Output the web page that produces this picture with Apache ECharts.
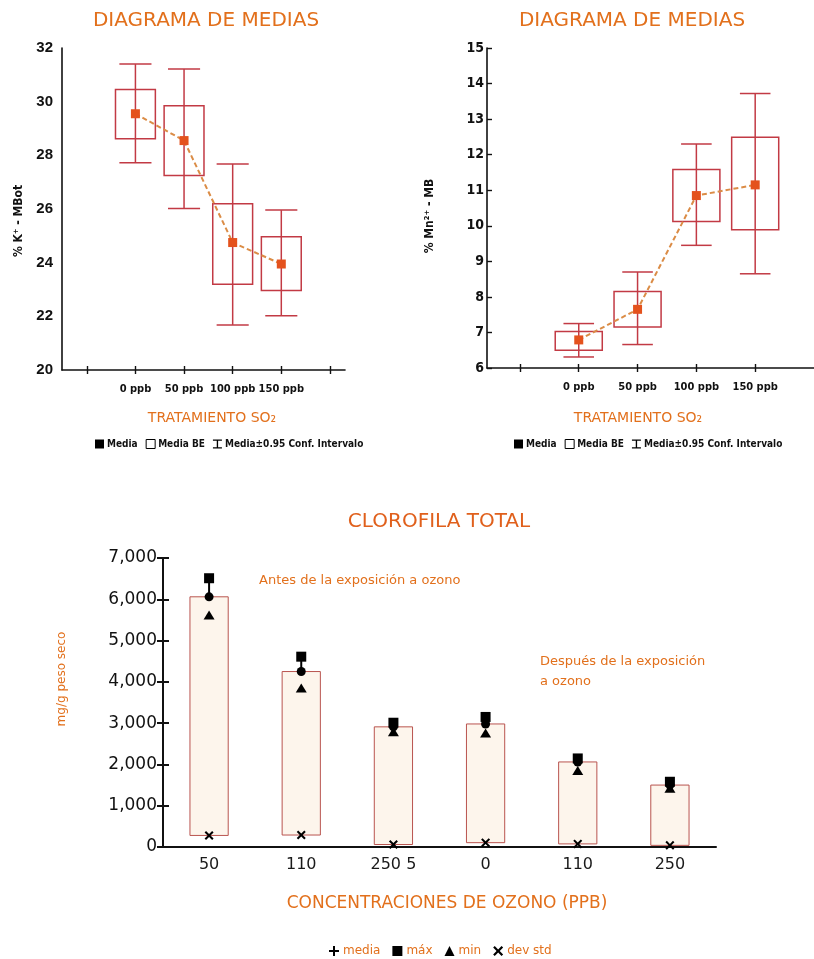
<!DOCTYPE html>
<html>
<head>
<meta charset="utf-8">
<script src="https://cdn.jsdelivr.net/npm/echarts@6/dist/echarts.min.js"></script>
<style>
  html, body { margin: 0; padding: 0; background: #fff; }
  #chart { width: 814px; height: 959px; }
</style>
</head>
<body>
<div id="chart"></div>
<script>
// ---- SO2 treatment diagrams (means, standard-error boxes, 0.95 CI whiskers) ----
const so2Levels = ['0 ppb', '50 ppb', '100 ppb', '150 ppb'];
const so2Positions = [0, 1, 2, 3];
const so2TickPositions = [-1, 0, 1, 2, 3, 4];

// % K+ - MBot
const kMean    = [29.55, 28.55, 24.75, 23.95];
const kBoxLow  = [28.62, 27.25, 23.20, 22.96];
const kBoxHigh = [30.45, 29.85, 26.20, 24.97];
const kCiLow   = [27.72, 26.02, 21.68, 22.02];
const kCiHigh  = [31.40, 31.22, 27.68, 25.96];
const kTicks   = [20, 22, 24, 26, 28, 30, 32];

// % Mn2+ - MB
const mnMean    = [6.79, 7.65, 10.85, 11.15];
const mnBoxLow  = [6.50, 7.15, 10.12, 9.89];
const mnBoxHigh = [7.03, 8.15, 11.58, 12.49];
const mnCiLow   = [6.31, 6.66, 9.45, 8.65];
const mnCiHigh  = [7.25, 8.70, 12.30, 13.72];
const mnTicks   = [6, 7, 8, 9, 10, 11, 12, 13, 14, 15];

// ---- Total chlorophyll before / after ozone exposure ----
const ozoneLabels = ['50', '110', '250 5', '0', '110', '250'];
const chlMedia  = [6060, 4250, 2910, 2980, 2060, 1500];
const chlMax    = [6510, 4610, 3010, 3150, 2145, 1580];
const chlMin    = [5620, 3850, 2790, 2760, 1850, 1420];
const chlDevStd = [280, 290, 60, 105, 75, 40];
const chlTicks  = [0, 1000, 2000, 3000, 4000, 5000, 6000, 7000];

// ---- styling ----
const ORANGE = '#e2701c';
const BOX_RED = '#c23a44';
const MEAN_RED = '#e4521d';
const DASH = '#db8c46';
const BAR_EDGE = '#b9544f';
const BAR_FILL = '#fdf5ec';
const TITLE_FONT = '"DejaVu Sans", sans-serif';
const COND_FONT = '"DejaVu Sans Condensed", "Liberation Sans Narrow", "DejaVu Sans", sans-serif';

const ICON_IBEAM = 'path://M0,0H10V1.5H5.75V8.5H10V10H0V8.5H4.25V1.5H0Z';
const ICON_PLUS = 'path://M4,0H6V4H10V6H6V10H4V6H0V4H4Z';
const ICON_CROSS = 'path://M0,1.6L1.6,0L5,3.4L8.4,0L10,1.6L6.6,5L10,8.4L8.4,10L5,6.6L1.6,10L0,8.4L3.4,5Z';

function zip3(a, b, c) { return a.map((v, i) => [v, b[i], c[i]]); }
function zip2(a, b) { return a.map((v, i) => [v, b[i]]); }

// standard-error box around each mean
function boxRenderer(frac) {
  return function (params, api) {
    const x = api.value(0);
    const lo = api.coord([x, api.value(1)]);
    const hi = api.coord([x, api.value(2)]);
    const w = api.size([1, 0])[0] * frac;
    return {
      type: 'rect',
      shape: { x: lo[0] - w / 2, y: hi[1], width: w, height: lo[1] - hi[1] },
      style: { fill: 'none', stroke: BOX_RED, lineWidth: 1.5 }
    };
  };
}

// confidence-interval whisker with end caps
function whiskerRenderer(frac) {
  return function (params, api) {
    const x = api.value(0);
    const lo = api.coord([x, api.value(1)]);
    const hi = api.coord([x, api.value(2)]);
    const w = api.size([1, 0])[0] * frac;
    const st = { stroke: BOX_RED, lineWidth: 1.5 };
    return {
      type: 'group',
      children: [
        { type: 'line', shape: { x1: lo[0], y1: lo[1], x2: hi[0], y2: hi[1] }, style: st },
        { type: 'line', shape: { x1: hi[0] - w / 2, y1: hi[1], x2: hi[0] + w / 2, y2: hi[1] }, style: st },
        { type: 'line', shape: { x1: lo[0] - w / 2, y1: lo[1], x2: lo[0] + w / 2, y2: lo[1] }, style: st }
      ]
    };
  };
}

// floating chlorophyll bar from dev std up to the mean
function barRenderer(params, api) {
  const x = api.value(0);
  const lo = api.coord([x, api.value(1)]);
  const hi = api.coord([x, api.value(2)]);
  const w = api.size([1, 0])[0] * 0.415;
  return {
    type: 'rect',
    shape: { x: lo[0] - w / 2, y: hi[1], width: w, height: lo[1] - hi[1] },
    style: { fill: BAR_FILL, stroke: BAR_EDGE, lineWidth: 1 }
  };
}

// max-min connector (hidden inside the bar)
function rangeRenderer(params, api) {
  const x = api.value(0);
  const lo = api.coord([x, api.value(1)]);
  const hi = api.coord([x, api.value(2)]);
  return {
    type: 'line',
    shape: { x1: lo[0], y1: lo[1], x2: hi[0], y2: hi[1] },
    style: { stroke: '#000', lineWidth: 2 }
  };
}

function ppbLabel(v) {
  const i = so2Positions.indexOf(Math.round(v));
  return i >= 0 ? so2Levels[i] : '';
}

function so2XAxes(gridIndex, min, max, ticks) {
  return [
    {
      type: 'value', gridIndex, min, max, splitLine: { show: false },
      axisLine: { onZero: false, lineStyle: { color: '#111', width: 1.6 } },
      axisTick: { show: true, length: 4, lineStyle: { color: '#111', width: 1.4 }, customValues: ticks },
      axisLabel: {
        customValues: so2Positions, formatter: ppbLabel, margin: 14,
        color: '#111', fontFamily: COND_FONT, fontWeight: 'bold', fontSize: 11
      }
    },
    {
      type: 'value', gridIndex, min, max, position: 'bottom', splitLine: { show: false },
      axisLine: { show: false, onZero: false }, axisLabel: { show: false },
      axisTick: { show: true, inside: true, length: 4, lineStyle: { color: '#111', width: 1.4 }, customValues: ticks }
    }
  ];
}

const markerStyle = { color: '#000', opacity: 1 };

const option = {
  animation: false,
  backgroundColor: '#fff',
  grid: [
    { left: 62, top: 48, width: 283, height: 322 },
    { left: 487, top: 48, width: 327, height: 320 },
    { left: 163, top: 558, width: 553, height: 289 }
  ],
  xAxis: [
    ...so2XAxes(0, -1.51, 4.31, so2TickPositions),
    ...so2XAxes(1, -1.56, 4.0, so2TickPositions.slice(0, 5)),
    {
      type: 'category', gridIndex: 2, data: ozoneLabels, boundaryGap: true,
      axisLine: { onZero: false, lineStyle: { color: '#111', width: 2 } },
      axisTick: { show: false },
      axisLabel: { margin: 10, color: '#1a1a1a', fontFamily: TITLE_FONT, fontSize: 16 }
    }
  ],
  yAxis: [
    {
      type: 'value', gridIndex: 0, min: 20, max: 32, interval: 2, splitLine: { show: false },
      axisLine: { show: true, onZero: false, lineStyle: { color: '#111', width: 1.6 } },
      axisTick: { show: false },
      axisLabel: { margin: 9, color: '#111', fontFamily: '"Liberation Sans", Arial, sans-serif', fontWeight: 'bold', fontSize: 15 }
    },
    {
      type: 'value', gridIndex: 1, min: 6, max: 15, interval: 1, splitLine: { show: false },
      axisLine: { show: true, onZero: false, lineStyle: { color: '#111', width: 1.6 } },
      axisTick: { show: true, inside: true, length: 5, lineStyle: { color: '#111', width: 1.4 } },
      axisLabel: { margin: 3, color: '#111', fontFamily: COND_FONT, fontWeight: 'bold', fontSize: 14 }
    },
    {
      type: 'value', gridIndex: 2, min: 0, max: 7000, interval: 1000, splitLine: { show: false },
      axisLine: { show: true, onZero: false, lineStyle: { color: '#111', width: 2 } },
      axisTick: { show: true, length: 6, lineStyle: { color: '#111', width: 2 } },
      axisLabel: {
        margin: 6, color: '#111', fontFamily: TITLE_FONT, fontSize: 17,
        formatter: v => v.toLocaleString('en-US')
      }
    },
    {
      type: 'value', gridIndex: 2, min: 0, max: 7000, interval: 1000, position: 'left', splitLine: { show: false },
      axisLine: { show: false, onZero: false }, axisLabel: { show: false },
      axisTick: { show: true, inside: true, length: 6, lineStyle: { color: '#111', width: 2 } }
    }
  ],
  legend: [
    {
      left: 90, top: 434, itemWidth: 9, itemHeight: 9, itemGap: 8,
      textStyle: { color: '#111', fontFamily: COND_FONT, fontWeight: 'bold', fontSize: 10, padding: [0, 0, 0, -2] },
      data: [
        { name: 'Media', icon: 'rect', itemStyle: { color: '#000' } },
        { name: 'Media BE', icon: 'rect', itemStyle: { color: '#fff', borderColor: '#000', borderWidth: 1 } },
        { name: 'Media±0.95 Conf. Intervalo', icon: ICON_IBEAM, itemStyle: { color: '#000' } }
      ]
    },
    {
      left: 509, top: 434, itemWidth: 9, itemHeight: 9, itemGap: 8,
      textStyle: { color: '#111', fontFamily: COND_FONT, fontWeight: 'bold', fontSize: 10, padding: [0, 0, 0, -2] },
      data: [
        { name: 'Media', icon: 'rect', itemStyle: { color: '#000' } },
        { name: 'Media BE', icon: 'rect', itemStyle: { color: '#fff', borderColor: '#000', borderWidth: 1 } },
        { name: 'Media±0.95 Conf. Intervalo', icon: ICON_IBEAM, itemStyle: { color: '#000' } }
      ]
    },
    {
      left: 324, top: 940, itemWidth: 10, itemHeight: 10, itemGap: 12,
      textStyle: { color: ORANGE, fontFamily: TITLE_FONT, fontSize: 12, padding: [0, 0, 0, -1] },
      data: [
        { name: 'media', icon: ICON_PLUS, itemStyle: { color: '#000' } },
        { name: 'máx', icon: 'rect', itemStyle: { color: '#000' } },
        { name: 'min', icon: 'triangle', itemStyle: { color: '#000' } },
        { name: 'dev std', icon: ICON_CROSS, itemStyle: { color: '#000' } }
      ]
    }
  ],
  graphic: [
    { type: 'text', x: 206, y: 21, style: { text: 'DIAGRAMA DE MEDIAS', font: '20px ' + TITLE_FONT, fill: ORANGE, align: 'center', verticalAlign: 'middle' } },
    { type: 'text', x: 632, y: 21, style: { text: 'DIAGRAMA DE MEDIAS', font: '20px ' + TITLE_FONT, fill: ORANGE, align: 'center', verticalAlign: 'middle' } },
    { type: 'text', x: 19, y: 221, rotation: Math.PI / 2, style: { text: '% K⁺ - MBot', font: 'bold 12px ' + COND_FONT, fill: '#111', align: 'center', verticalAlign: 'middle' } },
    { type: 'text', x: 430, y: 216, rotation: Math.PI / 2, style: { text: '% Mn²⁺ - MB', font: 'bold 12px ' + COND_FONT, fill: '#111', align: 'center', verticalAlign: 'middle' } },
    { type: 'text', x: 212, y: 418, style: { text: 'TRATAMIENTO SO₂', font: '14px ' + TITLE_FONT, fill: ORANGE, align: 'center', verticalAlign: 'middle' } },
    { type: 'text', x: 638, y: 418, style: { text: 'TRATAMIENTO SO₂', font: '14px ' + TITLE_FONT, fill: ORANGE, align: 'center', verticalAlign: 'middle' } },
    { type: 'text', x: 439, y: 522, style: { text: 'CLOROFILA TOTAL', font: '20px ' + TITLE_FONT, fill: '#e0601c', align: 'center', verticalAlign: 'middle' } },
    { type: 'text', x: 259, y: 581, style: { text: 'Antes de la exposición a ozono', font: '13px ' + TITLE_FONT, fill: ORANGE, align: 'left', verticalAlign: 'middle' } },
    { type: 'text', x: 540, y: 662, style: { text: 'Después de la exposición', font: '13px ' + TITLE_FONT, fill: ORANGE, align: 'left', verticalAlign: 'middle' } },
    { type: 'text', x: 540, y: 682, style: { text: 'a ozono', font: '13px ' + TITLE_FONT, fill: ORANGE, align: 'left', verticalAlign: 'middle' } },
    { type: 'text', x: 62, y: 679, rotation: Math.PI / 2, style: { text: 'mg/g peso seco', font: '12px ' + TITLE_FONT, fill: ORANGE, align: 'center', verticalAlign: 'middle' } },
    { type: 'text', x: 447, y: 904, style: { text: 'CONCENTRACIONES DE OZONO (PPB)', font: '17px ' + TITLE_FONT, fill: ORANGE, align: 'center', verticalAlign: 'middle' } }
  ],
  series: [
    // K+ diagram
    { name: 'Media BE', type: 'custom', xAxisIndex: 0, yAxisIndex: 0, z: 2, renderItem: boxRenderer(0.82),
      encode: { x: 0, y: [1, 2] }, data: zip3(so2Positions, kBoxLow, kBoxHigh) },
    { name: 'Media±0.95 Conf. Intervalo', type: 'custom', xAxisIndex: 0, yAxisIndex: 0, z: 3, renderItem: whiskerRenderer(0.66),
      encode: { x: 0, y: [1, 2] }, data: zip3(so2Positions, kCiLow, kCiHigh) },
    { name: 'K trend', type: 'line', xAxisIndex: 0, yAxisIndex: 0, z: 4, showSymbol: false,
      lineStyle: { color: DASH, width: 2, type: [5, 3] }, data: zip2(so2Positions, kMean) },
    { name: 'Media', type: 'scatter', xAxisIndex: 0, yAxisIndex: 0, z: 5, symbol: 'rect', symbolSize: 9,
      itemStyle: { color: MEAN_RED, opacity: 1 }, data: zip2(so2Positions, kMean) },

    // Mn2+ diagram
    { name: 'Media BE', type: 'custom', xAxisIndex: 2, yAxisIndex: 1, z: 2, renderItem: boxRenderer(0.8),
      encode: { x: 0, y: [1, 2] }, data: zip3(so2Positions, mnBoxLow, mnBoxHigh) },
    { name: 'Media±0.95 Conf. Intervalo', type: 'custom', xAxisIndex: 2, yAxisIndex: 1, z: 3, renderItem: whiskerRenderer(0.52),
      encode: { x: 0, y: [1, 2] }, data: zip3(so2Positions, mnCiLow, mnCiHigh) },
    { name: 'Mn trend', type: 'line', xAxisIndex: 2, yAxisIndex: 1, z: 4, showSymbol: false,
      lineStyle: { color: DASH, width: 2, type: [5, 3] }, data: zip2(so2Positions, mnMean) },
    { name: 'Media', type: 'scatter', xAxisIndex: 2, yAxisIndex: 1, z: 5, symbol: 'rect', symbolSize: 9,
      itemStyle: { color: MEAN_RED, opacity: 1 }, data: zip2(so2Positions, mnMean) },

    // chlorophyll
    { name: 'rango', type: 'custom', xAxisIndex: 4, yAxisIndex: 2, z: 1, renderItem: rangeRenderer,
      encode: { x: 0, y: [1, 2] }, data: zip3(ozoneLabels.map((_, i) => i), chlMin, chlMax) },
    { name: 'barra', type: 'custom', xAxisIndex: 4, yAxisIndex: 2, z: 2, renderItem: barRenderer,
      encode: { x: 0, y: [1, 2] }, data: zip3(ozoneLabels.map((_, i) => i), chlDevStd, chlMedia) },
    { name: 'media', type: 'scatter', xAxisIndex: 4, yAxisIndex: 2, z: 3, symbol: 'circle', symbolSize: 9,
      itemStyle: markerStyle, data: chlMedia },
    { name: 'máx', type: 'scatter', xAxisIndex: 4, yAxisIndex: 2, z: 4, symbol: 'rect', symbolSize: 10,
      itemStyle: markerStyle, data: chlMax },
    { name: 'min', type: 'scatter', xAxisIndex: 4, yAxisIndex: 2, z: 4, symbol: 'triangle', symbolSize: [11, 9],
      itemStyle: markerStyle, data: chlMin },
    { name: 'dev std', type: 'scatter', xAxisIndex: 4, yAxisIndex: 2, z: 4, symbol: ICON_CROSS, symbolSize: 9,
      itemStyle: markerStyle, data: chlDevStd }
  ]
};

const chart = echarts.init(document.getElementById('chart'), null, { renderer: 'canvas' });
chart.setOption(option);
</script>
</body>
</html>
